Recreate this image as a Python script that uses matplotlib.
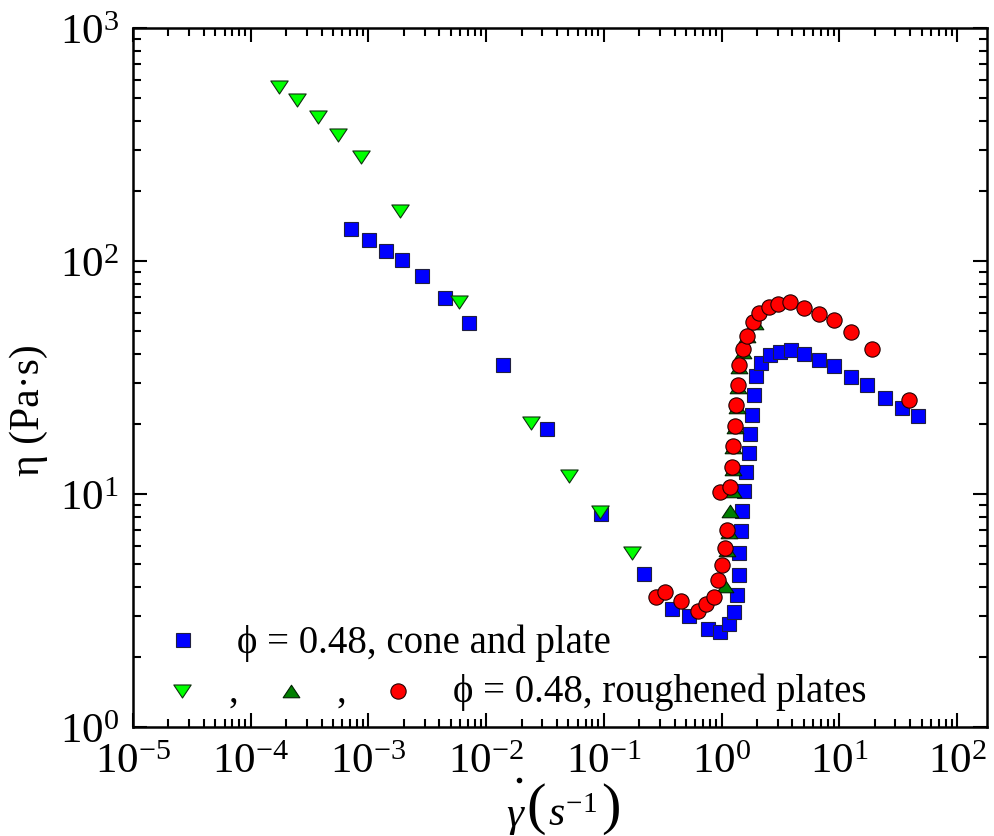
import numpy as np
import matplotlib
matplotlib.use("Agg")
import matplotlib.pyplot as plt
from matplotlib.path import Path
from matplotlib.lines import Line2D
from matplotlib.ticker import LogLocator, FixedLocator, NullFormatter, FuncFormatter

plt.rcParams['font.family'] = ['Liberation Serif', 'DejaVu Serif']
plt.rcParams['mathtext.fontset'] = 'custom'
plt.rcParams['mathtext.rm'] = 'Liberation Serif'
plt.rcParams['mathtext.it'] = 'Liberation Serif:italic'
plt.rcParams['mathtext.bf'] = 'Liberation Serif:bold'
plt.rcParams['mathtext.sf'] = 'Liberation Serif'

# ---- data ----
cone_x = [7.15e-4, 1.02e-3, 1.42e-3, 1.94e-3, 2.86e-3, 4.50e-3, 7.19e-3, 0.0140, 0.0331, 0.0955,
          0.221, 0.383, 0.524, 0.760, 0.962, 1.15, 1.27, 1.34, 1.40, 1.40, 1.45, 1.48, 1.54, 1.60,
          1.70, 1.73, 1.80, 1.87, 1.95, 2.15, 2.56, 3.11, 3.86, 4.98, 6.68, 8.96, 12.5, 17.1, 24.3,
          33.9, 46.4]
cone_y = [137, 123, 110, 101, 86.2, 69.4, 54.2, 35.8, 19.0, 8.20,
          4.54, 3.21, 2.99, 2.63, 2.56, 2.77, 3.12, 3.69, 4.49, 5.58, 6.93, 8.45, 10.3, 12.4,
          15.0, 18.1, 21.8, 26.6, 32.1, 36.5, 39.5, 40.7, 41.5, 39.9, 37.6, 35.4, 31.8, 29.4, 25.8,
          23.4, 21.6]

rough1_x = [1.74e-4, 2.48e-4, 3.74e-4, 5.53e-4, 8.69e-4, 1.86e-3, 5.91e-3, 0.0242, 0.0509, 0.0935, 0.175]
rough1_y = [558, 491, 415, 347, 279, 164, 66.7, 20.2, 11.9, 8.37, 5.58]

rough2_x = [1.06, 1.12, 1.15, 1.17, 1.24, 1.24, 1.24, 1.29, 1.34, 1.37, 1.42, 1.51, 1.66, 1.91]
rough2_y = [4.03, 5.75, 6.87, 8.45, 10.3, 12.8, 15.9, 19.4, 23.6, 28.8, 35.1, 40.7, 47.6, 54.2]

rough3_x = [0.275, 0.334, 0.448, 0.625, 0.731, 0.871, 0.925, 1.00, 1.06, 1.12, 0.962, 1.17, 1.22,
            1.24, 1.29, 1.32, 1.37, 1.40, 1.51, 1.66, 1.84, 2.10, 2.51, 2.99, 3.79, 4.98, 6.68,
            8.96, 12.7, 18.9, 38.9]
rough3_y = [3.61, 3.80, 3.47, 3.15, 3.37, 3.61, 4.27, 4.96, 5.86, 7.00, 10.2, 10.7, 13.1,
            16.1, 19.6, 24.1, 29.4, 35.8, 41.9, 47.6, 54.7, 59.8, 63.5, 65.4, 66.7, 62.8, 59.2,
            55.8, 49.6, 41.9, 25.3]

x_major = [1e-5, 1e-4, 1e-3, 1e-2, 1e-1, 1e0, 1e1, 1e2]
y_major = [1e0, 1e1, 1e2, 1e3]

label_cone = "ϕ = 0.48, cone and plate"
label_rough = "ϕ = 0.48, roughened plates"

# wide triangle markers
tri_down = Path([(-1, 0.75), (1, 0.75), (0, -0.75), (-1, 0.75)],
                [Path.MOVETO, Path.LINETO, Path.LINETO, Path.CLOSEPOLY])
tri_up = Path([(-1, -0.75), (1, -0.75), (0, 0.75), (-1, -0.75)],
              [Path.MOVETO, Path.LINETO, Path.LINETO, Path.CLOSEPOLY])

W, H = 994, 837
fig = plt.figure(figsize=(W/100, H/100), dpi=100)
ax = fig.add_axes([133/W, 1-728/H, 854/W, 699/H])

sq = dict(marker='s', ms=9.6, mfc='#0000FF', mec='#202040', mew=0.8, ls='none')
dn = dict(marker=tri_down, ms=12.5, mfc='#00FF00', mec='#103010', mew=0.8, ls='none')
up = dict(marker=tri_up, ms=12.0, mfc='#007F00', mec='#002000', mew=0.8, ls='none')
ci = dict(marker='o', ms=11, mfc='#FF0000', mec='#200000', mew=0.8, ls='none')

ax.plot(cone_x, cone_y, zorder=3, **sq)
ax.plot(rough1_x, rough1_y, zorder=4, **dn)
ax.plot(rough2_x, rough2_y, zorder=5, **up)
ax.plot(rough3_x, rough3_y, zorder=6, **ci)

ax.set_xscale('log')
ax.set_yscale('log')
ax.set_xlim(1e-5, 10**2.255)
ax.set_ylim(1, 1000)

def fmt(v, pos):
    e = int(round(np.log10(v)))
    return r'$10^{%d}$' % e

ax.xaxis.set_major_locator(FixedLocator(x_major))
ax.yaxis.set_major_locator(FixedLocator(y_major))
for axis in (ax.xaxis, ax.yaxis):
    axis.set_minor_locator(LogLocator(base=10, subs=np.arange(2, 10), numticks=20))
    axis.set_major_formatter(FuncFormatter(fmt))
    axis.set_minor_formatter(NullFormatter())

ax.tick_params(which='both', direction='in', top=True, right=True, width=1.5, colors='black')
ax.tick_params(which='major', length=10, labelsize=31)
ax.tick_params(which='minor', length=5.5)
ax.tick_params(axis='x', which='major', pad=11)
ax.tick_params(axis='y', which='major', pad=10)
for s in ax.spines.values():
    s.set_linewidth(1.8)

ax.set_ylabel("η (Pa·s)", fontsize=30)
ax.yaxis.set_label_coords(-0.100, 0.455)

# x label composed of pieces (large parentheses)
def ftext(px, py, s, **kw):
    fig.text(px/W, 1-py/H, s, va='baseline', **kw)

ftext(516, 826, r'$\gamma$', fontsize=31, ha='center')
fig.add_artist(Line2D([519/W], [1-781/H], transform=fig.transFigure, marker='o', ms=3,
                      mfc='black', mec='black', ls='none'))
ftext(536, 823, '(', fontsize=42, ha='center')
ftext(548, 826, r'$s^{-1}$', fontsize=30, ha='left')
ftext(611, 823, ')', fontsize=42, ha='center')

# legend drawn manually
T = ax.transAxes
ax.plot([0.0585], [0.1245], transform=T, clip_on=False, zorder=7, **sq)
ax.text(0.1218, 0.1073, label_cone, transform=T, fontsize=28, va='baseline', ha='left')
ax.plot([0.0574], [0.0515], transform=T, clip_on=False, zorder=7, **dn)
ax.text(0.112, 0.0372, ",", transform=T, fontsize=28, va='baseline', ha='left')
ax.plot([0.185], [0.0515], transform=T, clip_on=False, zorder=7, **up)
ax.text(0.238, 0.0372, ",", transform=T, fontsize=28, va='baseline', ha='left')
ax.plot([0.310], [0.0515], transform=T, clip_on=False, zorder=7, **ci)
ax.text(0.375, 0.0372, label_rough, transform=T, fontsize=28, va='baseline', ha='left')

fig.savefig("out.png", dpi=100)
